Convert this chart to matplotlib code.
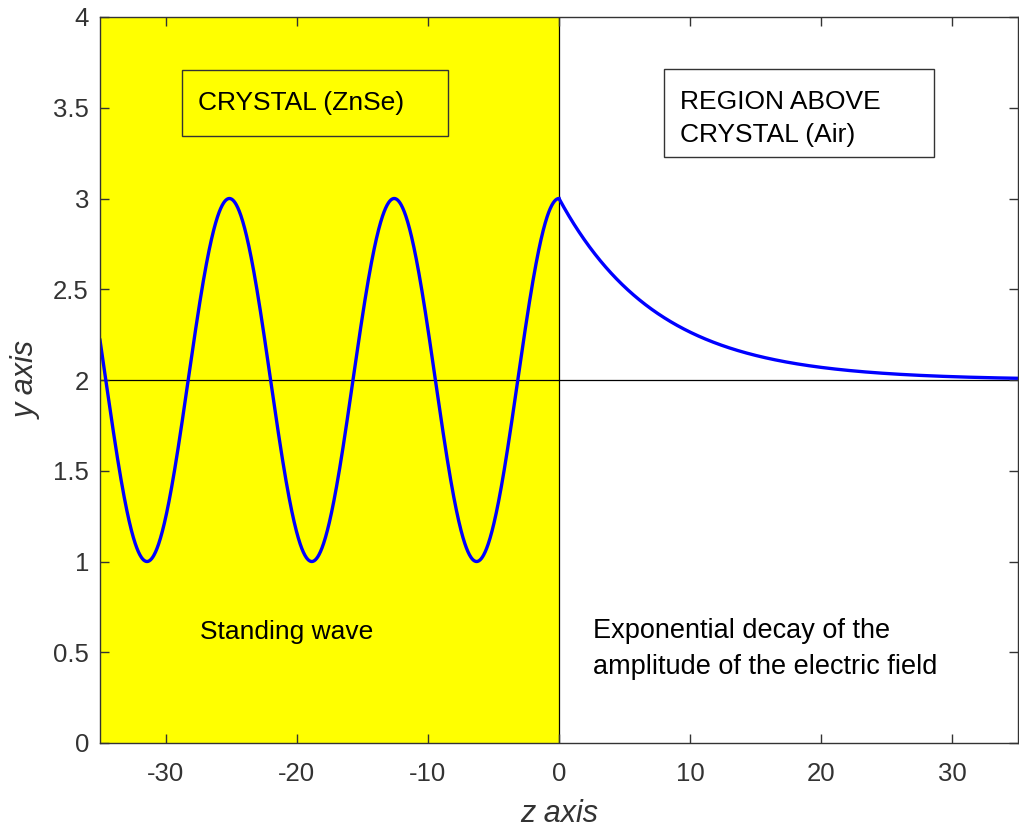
import numpy as np
import matplotlib
matplotlib.use("Agg")
import matplotlib.pyplot as plt
from matplotlib.patches import Rectangle

# Field profile parameters
baseline = 2.0          # level of the reference line
amplitude = 1.0         # wave / decay amplitude
wavenumber = 0.5        # standing wave: peaks every 4*pi along z
decay_length = 7.5      # 1/e length of the evanescent tail

z_min, z_max = -35.0, 35.0
x_ticks = [-30, -20, -10, 0, 10, 20, 30]
y_ticks = [0, 0.5, 1, 1.5, 2, 2.5, 3, 3.5, 4]
y_tick_labels = ["0", "0.5", "1", "1.5", "2", "2.5", "3", "3.5", "4"]

z_in = np.linspace(z_min, 0.0, 1200)
z_out = np.linspace(0.0, z_max, 1200)
y_in = baseline + amplitude * np.cos(wavenumber * z_in)
y_out = baseline + amplitude * np.exp(-z_out / decay_length)

plt.rcParams["font.family"] = ["Liberation Sans", "DejaVu Sans"]
plt.rcParams["axes.unicode_minus"] = False
fig = plt.figure(figsize=(10.2, 8.32), dpi=100)
ax = fig.add_axes([100 / 1020, 1 - 743 / 832, 918 / 1020, 726 / 832])

dark = "#333333"
ax.axvspan(z_min, 0, color="#FFFF00", zorder=0, lw=0)
ax.axhline(baseline, color="black", lw=0.9, zorder=1)
ax.axvline(0, color="black", lw=0.9, zorder=1)

ax.plot(z_in, y_in, color="#0000FF", lw=2.4, zorder=3)
ax.plot(z_out, y_out, color="#0000FF", lw=2.4, zorder=3, solid_capstyle="butt")

# Region labels
ax.add_patch(Rectangle((-28.75, 3.344), 20.3, 0.364, fill=False,
                       ec="#333333", lw=1.0, zorder=2))
ax.text(-27.5, 3.526, "CRYSTAL (ZnSe)", fontsize=19, va="center",
        ha="left", color="black", zorder=4)

ax.add_patch(Rectangle((8.0, 3.229), 20.6, 0.484, facecolor="white",
                       ec="#333333", lw=1.0, zorder=2))
ax.text(9.2, 3.44, "REGION ABOVE\nCRYSTAL (Air)", fontsize=19,
        va="center", ha="left", color="black", linespacing=1.5, zorder=4)

ax.text(-27.4, 0.61, "Standing wave", fontsize=19, va="center",
        ha="left", color="black", zorder=4)
ax.text(2.6, 0.52, "Exponential decay of the\namplitude of the electric field",
        fontsize=19.5, va="center", ha="left", color="black",
        linespacing=1.5, zorder=4)

ax.set_xlim(z_min, z_max)
ax.set_ylim(0, 4)
ax.set_xticks(x_ticks)
ax.set_yticks(y_ticks)
ax.set_yticklabels(y_tick_labels)
ax.tick_params(direction="in", length=6.5, width=1.0, colors=dark,
               labelsize=18.5, top=True, right=True)
ax.tick_params(axis="x", pad=14)
ax.tick_params(axis="y", pad=8)
for s in ax.spines.values():
    s.set_color(dark)
    s.set_linewidth(1.0)
    s.set_zorder(5)

ax.set_xlabel("z axis", fontsize=22, style="italic", color=dark, labelpad=9)
ax.set_ylabel("y axis", fontsize=22, style="italic", color=dark, labelpad=8)

fig.savefig("out.png", dpi=100)
